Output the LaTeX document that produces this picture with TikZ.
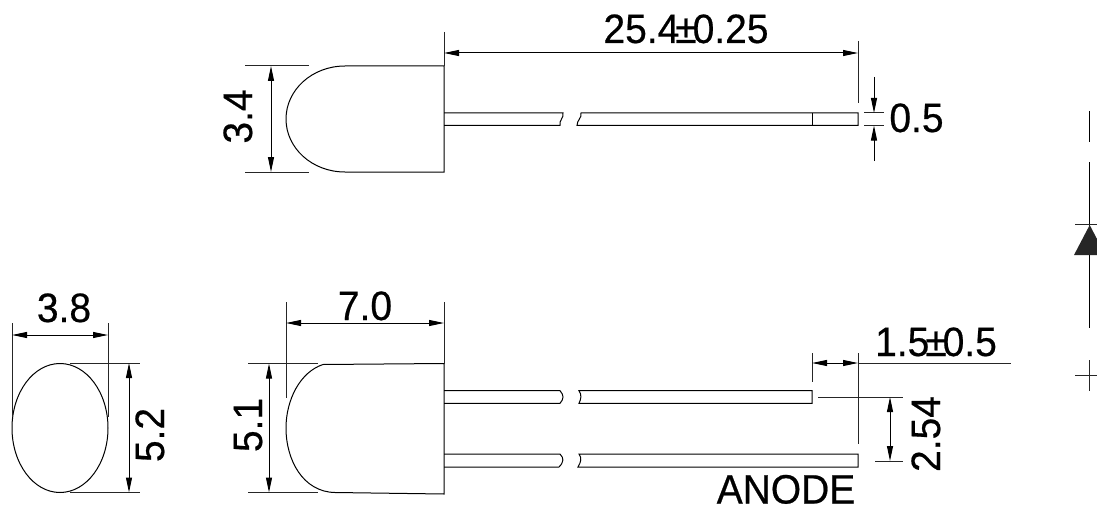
\documentclass[tikz,border=0pt]{standalone}
\usepackage{fontspec}
\newfontfamily\dimfont[FakeBold=0.5, FakeStretch=0.95]{Liberation Sans}
\usetikzlibrary{arrows.meta}

\begin{document}
\begin{tikzpicture}[
  x = 1pt, y = -1pt,
  outline/.style={draw, line width=1pt, color=black},
  extline/.style={draw, line width=1pt, color=black!85},
  dimline/.style={<->, >={Triangle[length=15pt, width=6pt]}, line width=1pt, color=black},
  leader/.style={->, >={Triangle[length=15pt, width=6pt]}, line width=1pt, color=black},
  dimtext/.style={font=\dimfont\fontsize{41}{41}\selectfont, inner sep=0pt, anchor=base}
]
    \useasboundingbox (0, 0) rectangle (1097, 508);

    % Top view body
    \draw[outline] (444, 66) -- (345, 66) .. controls (312, 66) and (286, 90) .. (286, 119)
      .. controls (286, 148) and (312, 172) .. (345, 172) -- (444, 172) -- cycle;

    % Top view lead
    \draw[outline] (444, 113) -- (563, 113) .. controls (564, 118) and (559, 120) .. (560, 125.5) -- (444, 125.5);
    \draw[outline] (858, 113) -- (581, 113) .. controls (582, 118) and (577, 120) .. (577, 125.5) -- (858, 125.5) -- cycle;
    \draw[outline] (812, 113) -- (812, 125.5);

    % Top view dimensions
    \draw[extline] (245, 66) -- (309, 66);
    \draw[extline] (245, 172) -- (309, 172);
    \draw[dimline] (271, 66) -- (271, 172);
    \node (topheight) at (252, 116.5) [dimtext, rotate=90] {3.4};
    \draw[extline] (444, 32) -- (444, 66);
    \draw[extline] (858, 41) -- (858, 103);
    \draw[dimline] (444, 53) -- (858, 53);
    \node (toplength) at (686, 43) [dimtext] {25.4\kern-4pt±\kern-4pt0.25};
    \draw[extline] (864, 113) -- (884, 113);
    \draw[extline] (864, 125.5) -- (884, 125.5);
    \draw[leader] (874, 77) -- (874, 113);
    \draw[leader] (874, 161) -- (874, 125.5);
    \node (leadwidth) at (916.5, 132) [dimtext] {0.5};

    % Front view ellipse
    \draw[outline] (60, 428) ellipse [x radius=48, y radius=64.5];
    \draw[extline] (12, 323) -- (12, 417);
    \draw[extline] (108, 323) -- (108, 417);
    \draw[dimline] (12, 335) -- (108, 335);
    \node (frontwidth) at (64, 322) [dimtext] {3.8};
    \draw[extline] (70, 363) -- (140, 363);
    \draw[extline] (70, 492.5) -- (140, 492.5);
    \draw[dimline] (129, 363) -- (129, 492.5);
    \node (frontheight) at (164, 435) [dimtext, rotate=90] {5.2};

    % Side view body
    \draw[outline] (444, 363.5) -- (323, 364.5) .. controls (300, 372) and (286, 400) .. (286, 428)
      .. controls (286, 460) and (303, 492) .. (335, 492.5) -- (444, 494) -- cycle;

    % Side view leads
    \draw[outline] (444, 390.7) -- (560, 390.7) .. controls (564, 395) and (564, 399) .. (560, 403.3) -- (444, 403.3);
    \draw[outline] (812, 390.7) -- (579, 390.7) .. controls (582, 395) and (581, 399) .. (579, 403.3) -- (812, 403.3) -- cycle;
    \draw[outline] (444, 454) -- (560, 454) .. controls (564, 458) and (564, 462) .. (559, 467) -- (444, 467);
    \draw[outline] (858, 454) -- (579, 454) .. controls (582, 458) and (581, 462) .. (578, 467) -- (858, 467) -- cycle;

    % Side view dimensions
    \draw[extline] (286, 302) -- (286, 398);
    \draw[extline] (444, 302) -- (444, 363.5);
    \draw[dimline] (286, 323) -- (444, 323);
    \node (sidelength) at (365, 320) [dimtext] {7.0};
    \draw[extline] (248, 363.5) -- (318, 363.5);
    \draw[extline] (248, 492.5) -- (318, 492.5);
    \draw[dimline] (269, 363.5) -- (269, 492.5);
    \node (sideheight) at (262, 425) [dimtext, rotate=90] {5.1};
    \draw[extline] (812, 353) -- (812, 382);
    \draw[extline] (858, 353) -- (858, 444);
    \draw[dimline] (812, 363) -- (858, 363);
    \draw[extline] (858, 363) -- (1011, 363);
    \node (leadgap) at (936, 356) [dimtext] {1.5\kern-4pt±\kern-4pt0.5};
    \draw[extline] (818, 397) -- (903, 397);
    \draw[extline] (875, 461) -- (903, 461);
    \draw[dimline] (890, 397) -- (890, 461);
    \node (pitch) at (940, 434) [dimtext, rotate=90] {2.54};
    \node (anode) at (786, 503.5) [dimtext] {ANODE};

    % Diode symbol
    \draw[outline] (1089.7, 111) -- (1089.7, 142);
    \draw[outline] (1089.7, 162) -- (1089.7, 328);
    \draw[extline] (1075, 224) -- (1097, 224);
    \fill[black!85] (1089.7, 225) -- (1074, 255) -- (1097, 255) -- (1097, 239) -- cycle;
    \draw[extline] (1089, 360) -- (1089, 391);
    \draw[extline] (1075, 375) -- (1097, 375);
\end{tikzpicture}
\end{document}
